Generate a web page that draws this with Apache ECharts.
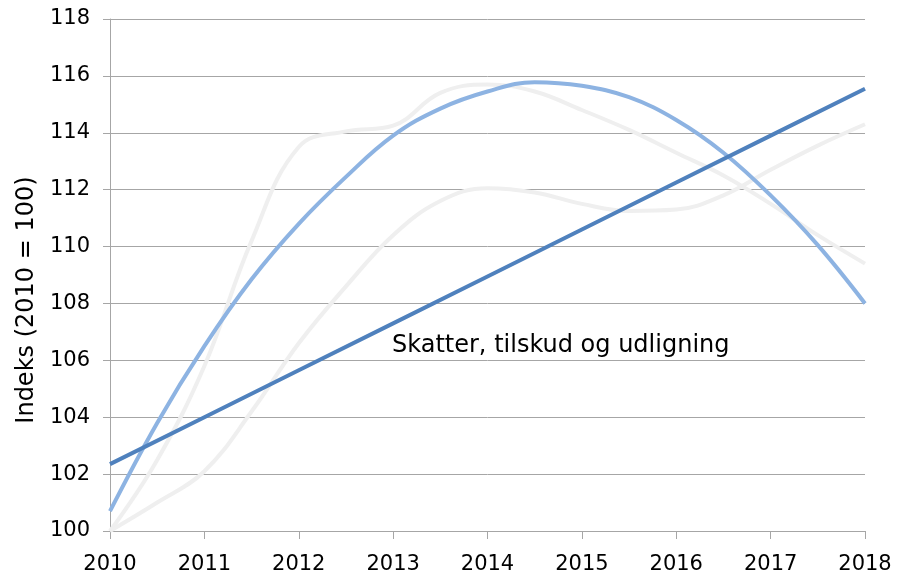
<!DOCTYPE html>
<html>
<head>
<meta charset="utf-8">
<script src="https://cdn.jsdelivr.net/npm/echarts@6/dist/echarts.min.js"></script>
<style>
  html, body { margin: 0; padding: 0; background: #fff; }
  #chart { width: 907px; height: 575px; }
</style>
</head>
<body>
<div id="chart"></div>
<script>
// data
const years = [2010, 2011, 2012, 2013, 2014, 2015, 2016, 2017, 2018];
const yTicks = [100, 102, 104, 106, 108, 110, 112, 114, 116, 118];

// Skatter, tilskud og udligning (straight line, dark blue)
const skatterX = [2010, 2011, 2012, 2013, 2014, 2015, 2016, 2017, 2018];
const skatterY = [102.35, 104.0, 105.65, 107.3, 108.95, 110.6, 112.25, 113.9, 115.55];

// light blue curve (half-year readings)
const blueX = [2010, 2010.5, 2011, 2011.5, 2012, 2012.5, 2013, 2013.5, 2014, 2014.5, 2015, 2015.5, 2016, 2016.5, 2017, 2017.5, 2018];
const blueY = [100.7, 103.8, 106.5, 108.85, 110.8, 112.45, 113.9, 114.85, 115.45, 115.78, 115.65, 115.25, 114.45, 113.3, 111.8, 110.05, 108.0];

// grey background curves
const greyAX = [2010, 2010.5, 2011, 2011.5, 2012, 2012.5, 2013, 2013.5, 2014, 2014.5, 2015, 2015.5, 2016, 2016.5, 2017, 2017.5, 2018];
const greyAY = [100, 102.5, 105.8, 110.2, 113.5, 114.05, 114.25, 115.4, 115.7, 115.45, 114.8, 114.1, 113.3, 112.5, 111.5, 110.4, 109.4];
const greyBX = [2010, 2010.5, 2011, 2011.5, 2012, 2012.5, 2013, 2013.5, 2014, 2014.5, 2015, 2015.5, 2016, 2016.5, 2017, 2017.5, 2018];
const greyBY = [100, 101.0, 102.1, 104.2, 106.6, 108.6, 110.4, 111.6, 112.05, 111.9, 111.5, 111.25, 111.3, 111.8, 112.7, 113.55, 114.3];

const labelText = 'Skatter, tilskud og udligning';
const axisName = 'Indeks (2010 = 100)';

const pairs = (xs, ys) => xs.map((x, i) => [x, ys[i]]);

const chart = echarts.init(document.getElementById('chart'));
const font = 'DejaVu Sans';
const gridColor = '#a6a6a6';

const option = {
  animation: false,
  backgroundColor: '#fff',
  grid: { left: 110, right: 42, top: 19, bottom: 43 },
  xAxis: {
    type: 'value',
    min: years[0],
    max: years[years.length - 1],
    interval: 1,
    axisLine: { show: true, lineStyle: { color: gridColor, width: 1 } },
    axisTick: { show: true, length: 8, lineStyle: { color: gridColor } },
    axisLabel: {
      margin: 23,
      color: '#000',
      fontFamily: font,
      fontSize: 21,
      formatter: v => String(v)
    },
    splitLine: { show: false }
  },
  yAxis: {
    type: 'value',
    min: yTicks[0],
    max: yTicks[yTicks.length - 1],
    interval: 2,
    name: axisName,
    nameLocation: 'middle',
    nameGap: 69,
    nameTextStyle: { color: '#000', fontFamily: font, fontSize: 24, padding: [0, 50, 0, 0] },
    axisLine: { show: true, lineStyle: { color: gridColor, width: 1 } },
    axisTick: { show: true, length: 7, lineStyle: { color: gridColor } },
    axisLabel: { margin: 20, color: '#000', fontFamily: font, fontSize: 21 },
    splitLine: { show: true, lineStyle: { color: gridColor, width: 1 } }
  },
  graphic: [
    {
      type: 'text',
      left: 392,
      top: 334,
      style: { text: labelText, fill: '#000', font: '24px "DejaVu Sans"' }
    }
  ],
  series: [
    {
      type: 'line', data: pairs(greyAX, greyAY), smooth: 0.4, showSymbol: false,
      lineStyle: { color: '#efefef', width: 4 }, z: 2
    },
    {
      type: 'line', data: pairs(greyBX, greyBY), smooth: 0.4, showSymbol: false,
      lineStyle: { color: '#efefef', width: 4 }, z: 2
    },
    {
      type: 'line', data: pairs(blueX, blueY), smooth: 0.4, showSymbol: false,
      lineStyle: { color: '#8db3e2', width: 4 }, z: 3
    },
    {
      type: 'line', data: pairs(skatterX, skatterY), smooth: false, showSymbol: false,
      lineStyle: { color: '#4f81bd', width: 4 }, z: 4
    }
  ]
};

chart.setOption(option);
</script>
</body>
</html>
